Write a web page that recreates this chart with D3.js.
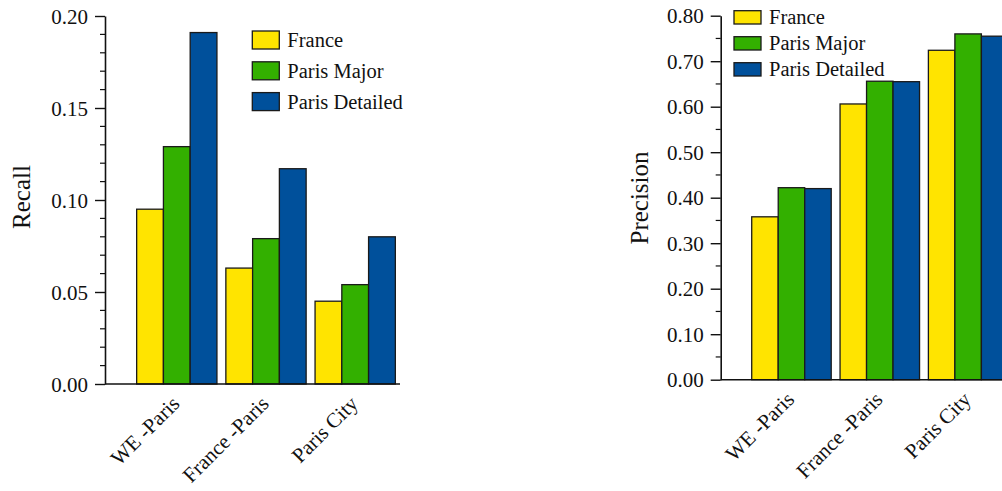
<!DOCTYPE html>
<html>
<head>
<meta charset="utf-8">
<script src="https://cdn.jsdelivr.net/npm/d3@7"></script>
<style>
  html, body { margin: 0; padding: 0; background: #fff; }
  svg { display: block; }
  text { font-family: "Liberation Serif", "Times New Roman", serif; fill: #111; }
</style>
</head>
<body>
<svg id="chart" width="1002" height="491"></svg>
<script>
// Regions compared and the three gazetteer sources
const categories = ["WE -Paris", "France -Paris", "Paris City"];
const seriesNames = ["France", "Paris Major", "Paris Detailed"];
const seriesColors = ["#FFE400", "#33B000", "#00509B"];

// Recall per region, one array per source
const recallFrance   = [0.095, 0.063, 0.045];
const recallMajor    = [0.129, 0.079, 0.054];
const recallDetailed = [0.191, 0.117, 0.080];

// Precision per region, one array per source
const precisionFrance   = [0.358, 0.606, 0.724];
const precisionMajor    = [0.422, 0.656, 0.760];
const precisionDetailed = [0.420, 0.655, 0.755];

const recallTicks = [0.00, 0.05, 0.10, 0.15, 0.20];
const precisionTicks = [0.00, 0.10, 0.20, 0.30, 0.40, 0.50, 0.60, 0.70, 0.80];

const recallSeries = [recallFrance, recallMajor, recallDetailed];
const precisionSeries = [precisionFrance, precisionMajor, precisionDetailed];

const svg = d3.select("#chart");

function panel(cfg) {
  const g = svg.append("g");
  const y = d3.scaleLinear().domain(cfg.yDomain).range(cfg.yRange);
  const x = d3.scaleBand().domain(categories).range(cfg.xRange)
    .paddingInner(0.1).paddingOuter(0.05);
  const xs = d3.scaleBand().domain(seriesNames).range([0, x.bandwidth()]).padding(0);

  // bars
  const rows = categories.map((c, i) => ({
    cat: c,
    vals: seriesNames.map((s, k) => ({ s, k, v: cfg.series[k][i] }))
  }));
  const grp = g.selectAll("g.grp").data(rows).join("g")
    .attr("transform", d => `translate(${x(d.cat)},0)`);
  grp.selectAll("rect").data(d => d.vals).join("rect")
    .attr("x", d => xs(d.s))
    .attr("width", xs.bandwidth())
    .attr("y", d => y(d.v))
    .attr("height", d => y(0) - y(d.v))
    .attr("fill", d => seriesColors[d.k])
    .attr("stroke", "#1a1a1a")
    .attr("stroke-width", 1.3);

  // minor ticks
  g.append("g").selectAll("line").data(cfg.minorTicks).join("line")
    .attr("x1", cfg.axisX - 5).attr("x2", cfg.axisX)
    .attr("y1", d => y(d)).attr("y2", d => y(d))
    .attr("stroke", "#111").attr("stroke-width", 1.2);

  // y axis with major ticks
  const yAxis = g.append("g")
    .attr("transform", `translate(${cfg.axisX},0)`)
    .call(d3.axisLeft(y).tickValues(cfg.ticks).tickFormat(d3.format(".2f"))
      .tickSize(10).tickPadding(8).tickSizeOuter(0));
  yAxis.select(".domain").attr("stroke", "#111").attr("stroke-width", 1.6);
  yAxis.selectAll(".tick line").attr("stroke", "#111").attr("stroke-width", 1.4);
  yAxis.selectAll(".tick text")
    .attr("x", -17).attr("dy", null).attr("y", 7)
    .attr("text-anchor", "end")
    .style("font-family", "'Liberation Serif', 'Times New Roman', serif")
    .style("font-size", "21px").attr("fill", "#111");

  // x axis baseline
  g.append("line")
    .attr("x1", cfg.axisX).attr("x2", cfg.xLineEnd)
    .attr("y1", y(0)).attr("y2", y(0))
    .attr("stroke", "#111").attr("stroke-width", 1.6);

  // category labels
  g.selectAll("text.cat").data(categories).join("text")
    .attr("class", "cat")
    .attr("text-anchor", "end")
    .style("font-size", "21px")
    .attr("transform", d => `translate(${x(d) + x.bandwidth() / 2 + 4},${y(0) + 21}) rotate(-45)`)
    .text(d => d);

  // y title
  g.append("text")
    .attr("text-anchor", "middle")
    .style("font-size", "25px")
    .attr("transform", `translate(${cfg.titleX},${cfg.titleY}) rotate(-90)`)
    .text(cfg.title);

  // legend
  const lg = g.append("g").attr("transform", `translate(${cfg.legend.x},${cfg.legend.y})`);
  const item = lg.selectAll("g").data(seriesNames).join("g")
    .attr("transform", (d, i) => `translate(0,${i * cfg.legend.step})`);
  item.append("rect")
    .attr("width", 27).attr("height", cfg.legend.h)
    .attr("fill", (d, i) => seriesColors[i])
    .attr("stroke", "#1a1a1a").attr("stroke-width", 1.3);
  item.append("text")
    .attr("x", 35).attr("y", cfg.legend.h / 2 + 7)
    .style("font-size", "20.5px")
    .text(d => d);
}

panel({
  series: recallSeries,
  yDomain: [0, 0.2], yRange: [384, 16],
  xRange: [132.2, 399.8],
  axisX: 105, xLineEnd: 400,
  ticks: recallTicks,
  minorTicks: d3.range(0, 0.2001, 0.01).filter(v => Math.round(v * 100) % 5 !== 0),
  title: "Recall", titleX: 30, titleY: 197,
  legend: { x: 252.3, y: 31, step: 30.8, h: 18 }
});

panel({
  series: precisionSeries,
  yDomain: [0, 0.8], yRange: [379.7, 15.7],
  xRange: [747.3, 1012.3],
  axisX: 720.7, xLineEnd: 1002,
  ticks: precisionTicks,
  minorTicks: d3.range(0.05, 0.8, 0.1),
  title: "Precision", titleX: 648, titleY: 198,
  legend: { x: 734, y: 10.7, step: 26, h: 13.3 }
});
</script>
</body>
</html>
